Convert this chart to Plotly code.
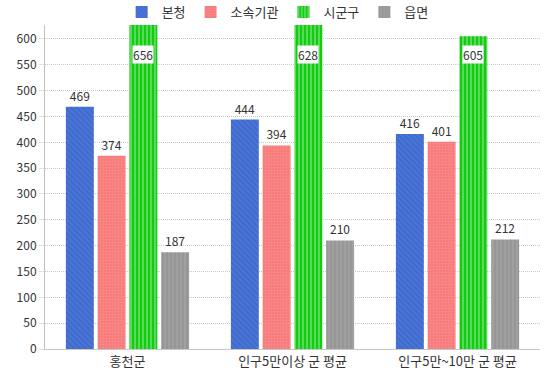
import plotly.graph_objects as go

categories = ["홍천군", "인구5만이상 군 평균", "인구5만~10만 군 평균"]
series_names = ["본청", "소속기관", "시군구", "읍면"]
v_boncheong = [469, 444, 416]
v_sosok = [374, 394, 401]
v_sigungu = [656, 628, 605]
v_eupmyeon = [187, 210, 212]

colors = ["#4a74d6", "#f77b7b", "#11cc11", "#a0a0a0"]
fgcolors = ["#2c55b8", "#f9a0a0", "#ffffff", "#808080"]
shapes = ["\\", "+", "|", "|"]
values = [v_boncheong, v_sosok, v_sigungu, v_eupmyeon]

YMAX = 627
FONT = "Noto Sans CJK KR, Noto Sans, sans-serif"

fig = go.Figure()
for i, (name, vals) in enumerate(zip(series_names, values)):
    show_text = name != "시군구"
    fig.add_trace(go.Bar(
        name=name, x=categories, y=vals,
        marker=dict(color=colors[i], line=dict(width=0),
                    pattern=dict(shape=shapes[i], fgcolor=fgcolors[i],
                                 size=4 if shapes[i] != "+" else 3,
                                 solidity=0.3)),
        text=[str(v) for v in vals] if show_text else None,
        textposition="outside", cliponaxis=True,
        textfont=dict(size=12, color="#333", family=FONT),
        hoverinfo="skip",
    ))

# labels for the tall (clipped) green bars
slot = 165 * (1 - 0.23) / 4
for c, v in zip(categories, v_sigungu):
    fig.add_annotation(x=c, y=min(v, 600), xref="x", yref="y", text=str(v),
                       showarrow=False, yanchor="top", yshift=-6,
                       xshift=0.5 * slot, bgcolor="white", borderpad=0,
                       font=dict(size=12, color="#333", family=FONT))

fig.update_layout(
    width=544, height=377,
    margin=dict(l=45, r=4, t=25, b=28, autoexpand=False),
    paper_bgcolor="white", plot_bgcolor="white",
    barmode="group", bargap=0.23, bargroupgap=0.12,
    font=dict(family=FONT, size=12, color="#333"),
    legend=dict(orientation="h", x=0.47, xanchor="center",
                yref="paper", y=1.04, yanchor="middle",
                bgcolor="rgba(0,0,0,0)",
                font=dict(size=13, color="#333", family=FONT),
                itemwidth=30, traceorder="normal"),
    showlegend=True,
)
fig.update_yaxes(range=[0, YMAX], dtick=50, showgrid=True, gridcolor="#c8c8c8",
                 griddash="1px,1px", gridwidth=1, showline=True, linecolor="#c0c0c0",
                 linewidth=1, ticks="outside", ticklen=5, tickcolor="#e0e0e0",
                 tickfont=dict(size=12, color="#333"), zeroline=False,
                 automargin=False)
fig.update_xaxes(showline=True, linecolor="#c8c8c8", linewidth=1, ticks="",
                 tickfont=dict(size=13, color="#333"), automargin=False)

fig.write_html("out.html", config={"displayModeBar": False},
               post_script="document.body.style.margin='0';document.body.style.overflow='hidden';")
